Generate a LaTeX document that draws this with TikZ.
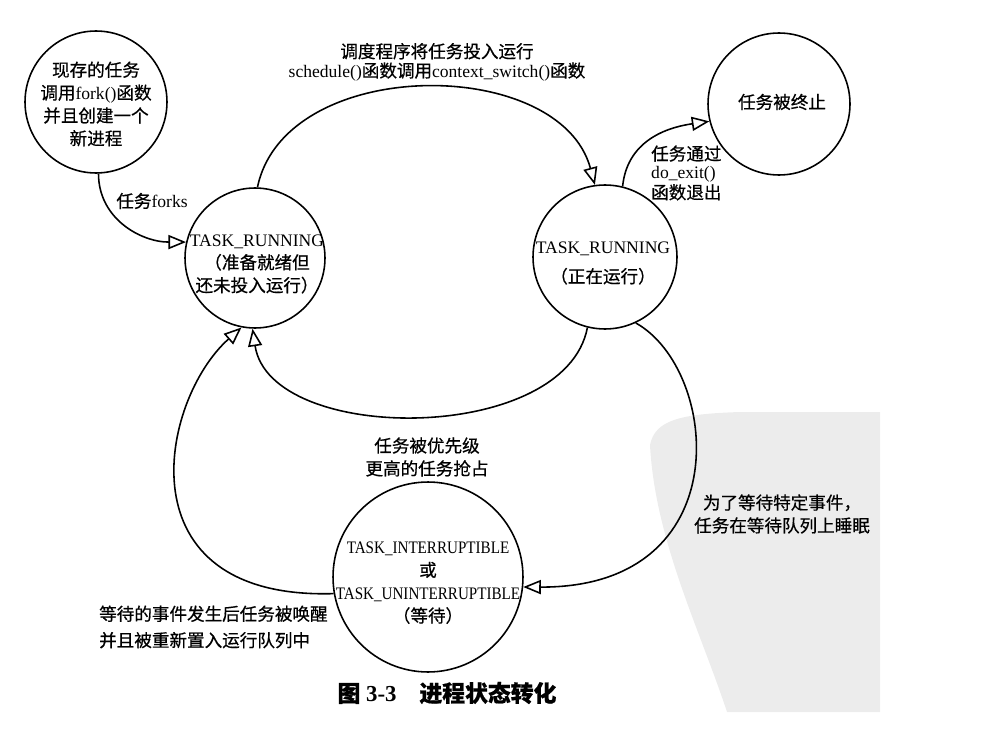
\documentclass[tikz,border=0pt]{standalone}
\usepackage{fontspec}
\setmainfont{Liberation Serif}
\newfontfamily\cjk{Noto Sans CJK SC}[FakeBold=0.6]
\newcommand{\zh}[1]{{\cjk #1}}
\usepackage{graphicx}
\usepackage{tikz}
\usetikzlibrary{arrows.meta, positioning}
\tikzstyle{trans} = [line width=0.9pt, -{Triangle[open, length=10pt, width=8pt]}]
\tikzstyle{state} = [draw, circle, line width=0.9pt, inner sep=0pt]

\begin{document}
\begin{tikzpicture}[x=0.02cm, y=-0.02cm, every node/.style={font=\fontsize{10}{13}\selectfont}, align=center]
\useasboundingbox (0,0) rectangle (997,733);
% watermark of the scan
\fill[gray!15] (650,445) .. controls (655,420) and (680,414) .. (740,412) -- (880,412) -- (880,712) -- (727,712) .. controls (700,630) and (655,540) .. cycle;

% States
\node (fork) [state, minimum size=2.84cm] at (96,102) {};
\node (ready) [state, minimum size=2.8cm] at (255,258) {};
\node (run) [state, minimum size=2.88cm] at (605,257) {};
\node (dead) [state, minimum size=2.84cm] at (779,104) {};
\node (wait) [state, minimum size=3.8cm] at (428,577) {};

% Texts inside the states
\node (forkTxt) at (96,104) {\zh{现存的任务}\\\zh{调用}fork()\zh{函数}\\\zh{并且创建一个}\\\zh{新进程}};
\node (readyTxt) at (257,264) {TASK\_RUNNING\\\zh{（准备就绪但}\\\zh{还未投入运行）}};
\node (runTxt) at (603,263) {TASK\_RUNNING\\[4pt]\zh{（正在运行）}};
\node (deadTxt) at (782,102) {\zh{任务被终止}};
\node (waitTxt) at (428,583) {\scalebox{0.86}[1]{TASK\_INTERRUPTIBLE}\\\zh{或}\\\scalebox{0.86}[1]{TASK\_UNINTERRUPTIBLE}\\\zh{（等待）}};

% Transition labels
\node (forkLbl) at (152,201) {\zh{任务}forks};
\node (schedLbl) at (437,62) {\zh{调度程序将任务投入运行}\\[-2pt]schedule()\zh{函数调用}context\_switch()\zh{函数}};
\node (exitLbl) [anchor=west, align=left, font=\fontsize{10}{10.5}\selectfont] at (645,173) {\zh{任务通过}\\do\_exit()\\\zh{函数退出}};
\node (sleepLbl) at (782,514) {\zh{为了等待特定事件，}\\\zh{任务在等待队列上睡眠}};
\node (preemptLbl) at (427,457) {\zh{任务被优先级}\\\zh{更高的任务抢占}};
\node (wakeLbl) [anchor=west, align=left] at (93,627) {\zh{等待的事件发生后任务被唤醒}\\[2pt]\zh{并且被重新置入运行队列中}};
\node (caption) at (447,693) {\fontsize{13}{15}\selectfont\bfseries\zh{图} 3-3\quad\zh{进程状态转化}};

% Transitions
\draw [trans] (fork.-88) .. controls +(0,45) and +(-45,0) .. (ready.167);
\draw [trans] (ready.88) .. controls (285,55) and (560,55) .. (run.98);
\draw [trans] (run.76) .. controls +(5,-50) and +(-35,5) .. (dead.194);
\draw [trans] (run.-65) .. controls (720,370) and (740,588) .. (wait.-6);
\draw [trans] (run.-104) .. controls (565,445) and (270,445) .. (ready.-92);
\draw [trans] (wait.190) .. controls (120,600) and (160,400) .. (ready.-101);
\end{tikzpicture}
\end{document}
